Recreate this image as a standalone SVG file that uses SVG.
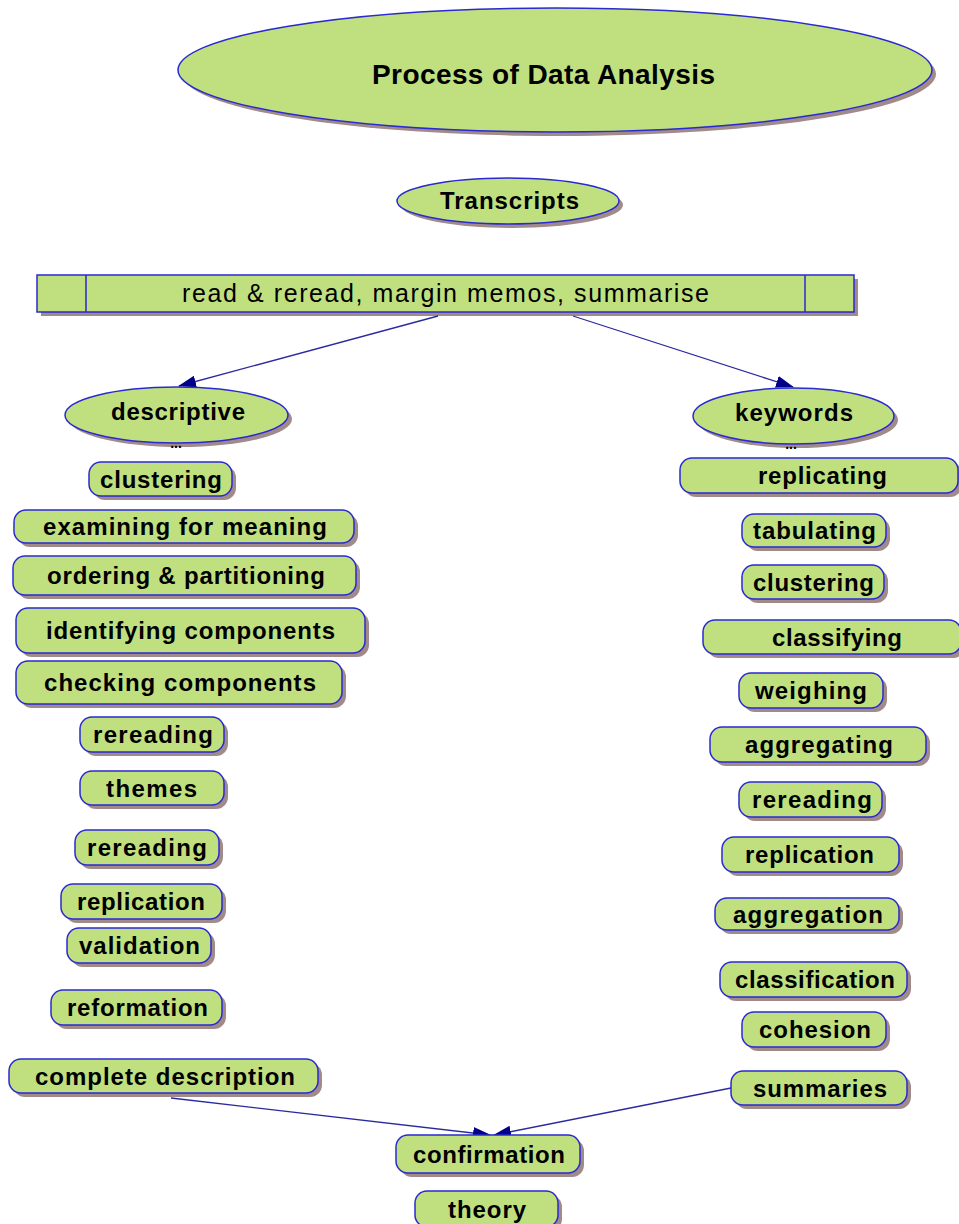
<svg xmlns="http://www.w3.org/2000/svg" width="959" height="1224" viewBox="0 0 959 1224">
<style>
.n{fill:#c0e080;stroke:#2a2ad0;stroke-width:1.5}
.sh{fill:#a08a8a}
.t{font-family:"Liberation Sans",Arial,sans-serif;font-weight:bold;font-size:24px;fill:#000;text-anchor:middle}
.dots{font-family:"Liberation Sans",Arial,sans-serif;font-weight:bold;font-size:14px;fill:#000;text-anchor:middle}
.c{stroke:#2a2aa0;stroke-width:1.3;fill:none}
</style>
<defs>
<marker id="ah" markerWidth="18" markerHeight="12" refX="17" refY="6" orient="auto" markerUnits="userSpaceOnUse">
<path d="M0,0 L18,6 L0,12 Z" fill="#00008b"/>
</marker>
</defs>
<rect width="959" height="1224" fill="#fff"/>

<g id="title">
<ellipse class="sh" cx="559" cy="74" rx="377" ry="62"/>
<ellipse class="n" cx="555" cy="70" rx="377" ry="62"/>
<text class="t" x="543.5" y="84" style="font-size:28px" textLength="343" lengthAdjust="spacing">Process of Data Analysis</text>
</g>

<g id="transcripts">
<ellipse class="sh" cx="512" cy="205" rx="111" ry="23"/>
<ellipse class="n" cx="508" cy="201" rx="111" ry="23"/>
<text class="t" x="509.5" y="209" textLength="139" lengthAdjust="spacing">Transcripts</text>
</g>

<g id="read-reread">
<rect class="sh" x="41" y="279" width="817" height="37"/>
<rect class="n" x="37" y="275" width="817" height="37"/>
<line x1="86" y1="275" x2="86" y2="312" stroke="#2a2ad0" stroke-width="1.5"/>
<line x1="805" y1="275" x2="805" y2="312" stroke="#2a2ad0" stroke-width="1.5"/>
<text class="t" x="445.5" y="302" style="font-weight:normal;font-size:25px" textLength="527" lengthAdjust="spacing">read &amp; reread, margin memos, summarise</text>
</g>

<g id="connectors">
<line class="c" x1="438" y1="316" x2="179" y2="386" marker-end="url(#ah)"/>
<line class="c" x1="573" y1="316" x2="793" y2="387" marker-end="url(#ah)"/>
<line class="c" x1="171" y1="1098" x2="490" y2="1135" marker-end="url(#ah)"/>
<line class="c" x1="731" y1="1088" x2="494" y2="1135" marker-end="url(#ah)"/>
</g>

<g id="descriptive">
<ellipse class="sh" cx="180.5" cy="419" rx="111.5" ry="28"/>
<ellipse class="n" cx="176.5" cy="415" rx="111.5" ry="28"/>
<text class="t" x="178" y="420" textLength="134" lengthAdjust="spacing">descriptive</text>
<text class="dots" x="176" y="448">...</text>
</g>

<g id="keywords">
<ellipse class="sh" cx="797.5" cy="420" rx="100.5" ry="28"/>
<ellipse class="n" cx="793.5" cy="416" rx="100.5" ry="28"/>
<text class="t" x="794" y="421" textLength="118" lengthAdjust="spacing">keywords</text>
<text class="dots" x="791" y="449">...</text>
</g>

<!-- left column -->
<g id="l-clustering"><rect class="sh" x="93" y="466" width="143" height="34" rx="12"/><rect class="n" x="89" y="462" width="143" height="34" rx="12"/><text class="t" x="161" y="488" textLength="122" lengthAdjust="spacing">clustering</text></g>
<g id="l-examining"><rect class="sh" x="18" y="514" width="340" height="33" rx="12"/><rect class="n" x="14" y="510" width="340" height="33" rx="12"/><text class="t" x="185" y="535" textLength="284" lengthAdjust="spacing">examining for meaning</text></g>
<g id="l-ordering"><rect class="sh" x="17" y="560" width="343" height="39" rx="12"/><rect class="n" x="13" y="556" width="343" height="39" rx="12"/><text class="t" x="186" y="584" textLength="278" lengthAdjust="spacing">ordering &amp; partitioning</text></g>
<g id="l-identifying"><rect class="sh" x="20" y="612" width="349" height="45" rx="12"/><rect class="n" x="16" y="608" width="349" height="45" rx="12"/><text class="t" x="190.5" y="639" textLength="289" lengthAdjust="spacing">identifying components</text></g>
<g id="l-checking"><rect class="sh" x="20" y="665" width="326" height="43" rx="12"/><rect class="n" x="16" y="661" width="326" height="43" rx="12"/><text class="t" x="180" y="691" textLength="272" lengthAdjust="spacing">checking components</text></g>
<g id="l-rereading1"><rect class="sh" x="84" y="721" width="144" height="35" rx="12"/><rect class="n" x="80" y="717" width="144" height="35" rx="12"/><text class="t" x="153" y="743" textLength="120" lengthAdjust="spacing">rereading</text></g>
<g id="l-themes"><rect class="sh" x="84" y="775" width="144" height="34" rx="12"/><rect class="n" x="80" y="771" width="144" height="34" rx="12"/><text class="t" x="151.5" y="797" textLength="91" lengthAdjust="spacing">themes</text></g>
<g id="l-rereading2"><rect class="sh" x="79" y="834" width="144" height="35" rx="12"/><rect class="n" x="75" y="830" width="144" height="35" rx="12"/><text class="t" x="147" y="856" textLength="120" lengthAdjust="spacing">rereading</text></g>
<g id="l-replication"><rect class="sh" x="65" y="888" width="161" height="35" rx="12"/><rect class="n" x="61" y="884" width="161" height="35" rx="12"/><text class="t" x="141" y="910" textLength="128" lengthAdjust="spacing">replication</text></g>
<g id="l-validation"><rect class="sh" x="71" y="932" width="144" height="35" rx="12"/><rect class="n" x="67" y="928" width="144" height="35" rx="12"/><text class="t" x="139.5" y="954" textLength="121" lengthAdjust="spacing">validation</text></g>
<g id="l-reformation"><rect class="sh" x="55" y="994" width="171" height="35" rx="12"/><rect class="n" x="51" y="990" width="171" height="35" rx="12"/><text class="t" x="137.5" y="1016" textLength="141" lengthAdjust="spacing">reformation</text></g>
<g id="l-complete"><rect class="sh" x="13" y="1063" width="309" height="34" rx="12"/><rect class="n" x="9" y="1059" width="309" height="34" rx="12"/><text class="t" x="165" y="1085" textLength="260" lengthAdjust="spacing">complete description</text></g>

<!-- right column -->
<g id="r-replicating"><rect class="sh" x="684" y="462" width="278" height="35" rx="12"/><rect class="n" x="680" y="458" width="278" height="35" rx="12"/><text class="t" x="822.5" y="484" textLength="129" lengthAdjust="spacing">replicating</text></g>
<g id="r-tabulating"><rect class="sh" x="746" y="518" width="144" height="33" rx="12"/><rect class="n" x="742" y="514" width="144" height="33" rx="12"/><text class="t" x="814.5" y="539" textLength="123" lengthAdjust="spacing">tabulating</text></g>
<g id="r-clustering"><rect class="sh" x="746" y="569" width="142" height="34" rx="12"/><rect class="n" x="742" y="565" width="142" height="34" rx="12"/><text class="t" x="813.5" y="591" textLength="121" lengthAdjust="spacing">clustering</text></g>
<g id="r-classifying"><rect class="sh" x="707" y="624" width="258" height="34" rx="12"/><rect class="n" x="703" y="620" width="258" height="34" rx="12"/><text class="t" x="837" y="646" textLength="130" lengthAdjust="spacing">classifying</text></g>
<g id="r-weighing"><rect class="sh" x="743" y="677" width="144" height="35" rx="12"/><rect class="n" x="739" y="673" width="144" height="35" rx="12"/><text class="t" x="811" y="699" textLength="112" lengthAdjust="spacing">weighing</text></g>
<g id="r-aggregating"><rect class="sh" x="714" y="731" width="216" height="35" rx="12"/><rect class="n" x="710" y="727" width="216" height="35" rx="12"/><text class="t" x="819" y="753" textLength="148" lengthAdjust="spacing">aggregating</text></g>
<g id="r-rereading"><rect class="sh" x="743" y="786" width="143" height="35" rx="12"/><rect class="n" x="739" y="782" width="143" height="35" rx="12"/><text class="t" x="812" y="808" textLength="120" lengthAdjust="spacing">rereading</text></g>
<g id="r-replication"><rect class="sh" x="726" y="841" width="177" height="35" rx="12"/><rect class="n" x="722" y="837" width="177" height="35" rx="12"/><text class="t" x="809.5" y="863" textLength="129" lengthAdjust="spacing">replication</text></g>
<g id="r-aggregation"><rect class="sh" x="719" y="902" width="184" height="32" rx="12"/><rect class="n" x="715" y="898" width="184" height="32" rx="12"/><text class="t" x="808" y="923" textLength="150" lengthAdjust="spacing">aggregation</text></g>
<g id="r-classification"><rect class="sh" x="724" y="966" width="187" height="35" rx="12"/><rect class="n" x="720" y="962" width="187" height="35" rx="12"/><text class="t" x="815" y="988" textLength="160" lengthAdjust="spacing">classification</text></g>
<g id="r-cohesion"><rect class="sh" x="746" y="1016" width="144" height="35" rx="12"/><rect class="n" x="742" y="1012" width="144" height="35" rx="12"/><text class="t" x="815" y="1038" textLength="112" lengthAdjust="spacing">cohesion</text></g>
<g id="r-summaries"><rect class="sh" x="735" y="1075" width="176" height="34" rx="12"/><rect class="n" x="731" y="1071" width="176" height="34" rx="12"/><text class="t" x="820" y="1097" textLength="134" lengthAdjust="spacing">summaries</text></g>

<!-- bottom -->
<g id="confirmation"><rect class="sh" x="400" y="1139" width="184" height="38" rx="12"/><rect class="n" x="396" y="1135" width="184" height="38" rx="12"/><text class="t" x="489" y="1163" textLength="152" lengthAdjust="spacing">confirmation</text></g>
<g id="theory"><rect class="sh" x="419" y="1195" width="143" height="36" rx="12"/><rect class="n" x="415" y="1191" width="143" height="36" rx="12"/><text class="t" x="487" y="1218" textLength="78" lengthAdjust="spacing">theory</text></g>
</svg>
